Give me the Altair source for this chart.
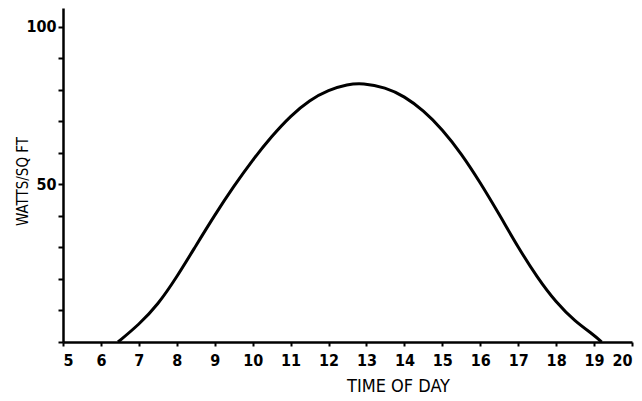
import altair as alt
import pandas as pd

hours = [6.45, 7.0, 7.5, 8.0, 8.5, 9.0, 9.5, 10.0, 10.5, 11.0, 11.5, 12.0, 12.5,
         12.9, 13.5, 14.0, 14.5, 15.0, 15.5, 16.0, 16.5, 17.0, 17.5, 18.0, 18.5, 19.0, 19.2]
watts = [0, 5.5, 11.8, 20.6, 30.5, 40.3, 49.4, 57.8, 65.3, 71.8, 76.8, 80.0, 81.8,
         82.2, 80.8, 78, 73.5, 67.5, 59.8, 50.6, 40.5, 30, 20.5, 12.5, 6.5, 2.2, 0]
x_ticks = list(range(5, 21))
y_ticks = list(range(0, 101, 10))

df = pd.DataFrame({"hour": hours, "watts": watts})

FONT = "DejaVu Sans Condensed"

chart = alt.Chart(df).mark_line(
    color="black", strokeWidth=3, interpolate="basis"
).encode(
    x=alt.X("hour:Q",
            scale=alt.Scale(domain=[5, 20], nice=False, zero=False),
            axis=alt.Axis(values=x_ticks, title="TIME OF DAY", grid=False,
                          tickSize=4, tickWidth=2, domainWidth=2.5,
                          labelPadding=6, titlePadding=9, titleFontSize=18,
                          titleX=335)),
    y=alt.Y("watts:Q",
            scale=alt.Scale(domain=[0, 106], nice=False),
            axis=alt.Axis(values=y_ticks, title="WATTS/SQ FT", grid=False,
                          labelExpr="(datum.value == 50 || datum.value == 100) ? datum.label : ''",
                          tickSize=5, tickWidth=2, domainWidth=2.5,
                          labelPadding=2, titleY=173, titleX=-33, titleFontSize=15)),
).properties(
    width=569, height=334,
    autosize=alt.AutoSizeParams(type="none"),
    padding={"left": 55, "top": 0, "right": 2, "bottom": 55},
).configure_view(stroke=None).configure_axis(
    labelFont=FONT, titleFont=FONT, labelFontSize=16,
    labelColor="black", titleColor="black", domainColor="black", tickColor="black",
    titleFontWeight="normal", labelFontWeight="bold", titleAlign="center"
)

chart.save("out.html", embed_options={"renderer": "svg", "actions": False})
